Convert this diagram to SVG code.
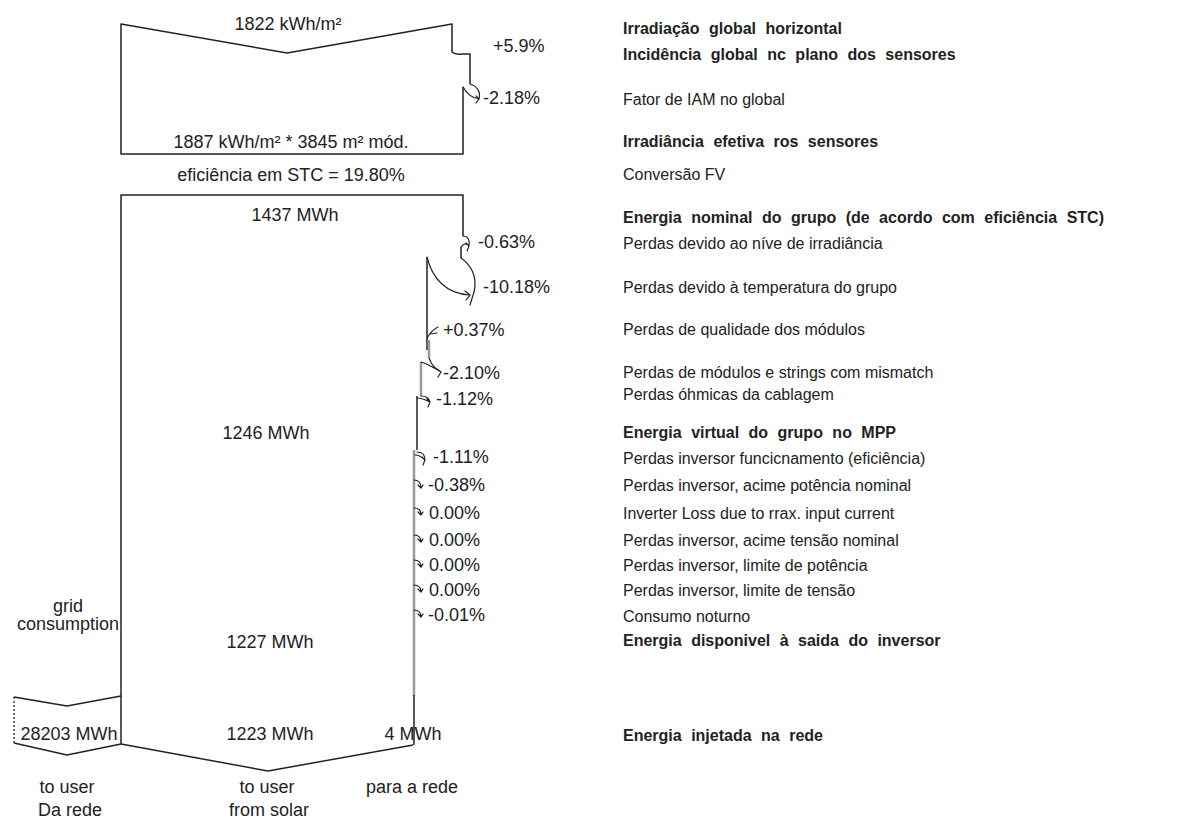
<svg xmlns="http://www.w3.org/2000/svg" width="1177" height="818" viewBox="0 0 1177 818">
<style>
.ln{fill:none;stroke:#222;stroke-width:1.5;stroke-linejoin:round}
.lg{fill:none;stroke:#9a9a9a;stroke-width:2.5}
.hk{fill:none;stroke:#222;stroke-width:1.2;stroke-linecap:round}
.t{font-family:"Liberation Sans",Arial,sans-serif;font-size:16px;fill:#222}
.s{font-size:18px}
.b{font-weight:bold;word-spacing:5px}
.m{text-anchor:middle}
</style>
<rect width="1177" height="818" fill="#fff"/>
<g id="irradiation-box">
<path class="ln" d="M463,87 L463,154 L121,154 L121,24 L287,53 L452,24 L452,52 Q455,55 462,54 L470,54 L470,84"/>
<text class="t s m" x="288" y="30">1822 kWh/m²</text>
<text class="t s m" x="291" y="148">1887 kWh/m² * 3845 m² mód.</text>
</g>
<text class="t s m" x="291" y="181">eficiência em STC = 19.80%</text>
<g id="energy-box">
<path class="ln" d="M413,745 L268,771 L121,744 L121,195 L463,195 L463,236 M461,247 L461,258 M427,257 L427,350"/>
<path class="ln" d="M417,396 L417,450"/>
<path class="lg" d="M429,340 L429,358 M421,362 L421,396 M414,450 L414,696"/>
<path class="ln" d="M414,695 L414,745"/>
<text class="t s m" x="295" y="221">1437 MWh</text>
<text class="t s m" x="266" y="439">1246 MWh</text>
<text class="t s m" x="270" y="648">1227 MWh</text>
<text class="t s m" x="270" y="740">1223 MWh</text>
<text class="t s m" x="413" y="740">4 MWh</text>
</g>
<g id="grid-box">
<path class="ln" d="M14,697 L67,706 L121,696 M14,743 L67,755 L121,744"/>
<path fill="none" stroke="#444" stroke-width="1.5" stroke-dasharray="2,2" d="M14,697 L14,743"/>
<text class="t s m" x="68" y="612">grid</text>
<text class="t s m" x="68" y="630">consumption</text>
<text class="t s m" x="69" y="740">28203 MWh</text>
</g>
<g id="connectors">
<path class="hk" d="M470,84 C477,86 481,92 479,99 M463,87 C467,94 472,98 479,99 M476,96 L479,99 L476,103"/>
<path class="hk" d="M463,236 C468,236 470,240 469,246 M461,247 C464,243 467,243 469,246 M466,243 L469,246 L467,251"/>
<path class="hk" d="M461,258 C470,264 478,276 474,292 L470,305 M427,257 C432,278 446,294 470,295 M465,291 L470,295 L466,300"/>
<path class="hk" d="M427,338 C430,333 434,329 438,327 M430,334 L437,333"/>
<path class="hk" d="M429,358 C432,366 436,370 441,372 M421,362 C428,364 434,368 441,372 M437,369 L441,372 L438,377"/>
<path class="hk" d="M421,396 C426,396 429,398 430,402 M417,398 C422,398 426,400 430,402 M427,399 L430,402 L428,407"/>
<path class="hk" d="M417,452 C422,452 425,455 425,460 M415,455 C419,455 422,457 425,460 M422,457 L425,460 L423,465"/>
<path class="hk" d="M414,480 C419,480 421,483 421,488 M418,485 L421,488 L423,485"/>
<path class="hk" d="M414,508 C419,508 421,511 421,515 M418,512 L421,515 L423,512"/>
<path class="hk" d="M414,535 C419,535 421,538 421,542 M418,539 L421,542 L423,539"/>
<path class="hk" d="M414,560 C419,560 421,563 421,567 M418,564 L421,567 L423,564"/>
<path class="hk" d="M414,585 C419,585 421,588 421,592 M418,589 L421,592 L423,589"/>
<path class="hk" d="M414,610 C419,610 421,613 421,617 M418,614 L421,617 L423,614"/>
</g>
<g id="loss-values">
<text class="t s" x="493" y="52">+5.9%</text>
<text class="t s" x="483" y="104">-2.18%</text>
<text class="t s" x="478" y="248">-0.63%</text>
<text class="t s" x="483" y="293">-10.18%</text>
<text class="t s" x="443" y="336">+0.37%</text>
<text class="t s" x="443" y="379">-2.10%</text>
<text class="t s" x="436" y="405">-1.12%</text>
<text class="t s" x="433" y="463">-1.11%</text>
<text class="t s" x="428" y="491">-0.38%</text>
<text class="t s" x="429" y="519">0.00%</text>
<text class="t s" x="429" y="546">0.00%</text>
<text class="t s" x="429" y="571">0.00%</text>
<text class="t s" x="429" y="596">0.00%</text>
<text class="t s" x="428" y="621">-0.01%</text>
</g>
<g id="bottom-labels">
<text class="t s m" x="67" y="793">to user</text>
<text class="t s m" x="70" y="816">Da rede</text>
<text class="t s m" x="267" y="793">to user</text>
<text class="t s m" x="269" y="816">from solar</text>
<text class="t s m" x="412" y="793">para a rede</text>
</g>
<g id="step-labels">
<text class="t b" x="623" y="34">Irradiação global horizontal</text>
<text class="t b" x="623" y="60">Incidência global nc plano dos sensores</text>
<text class="t" x="623" y="105">Fator de IAM no global</text>
<text class="t b" x="623" y="147">Irradiância efetiva ros sensores</text>
<text class="t" x="623" y="180">Conversão FV</text>
<text class="t b" x="623" y="223">Energia nominal do grupo (de acordo com eficiência STC)</text>
<text class="t" x="623" y="249">Perdas devido ao níve de irradiância</text>
<text class="t" x="623" y="293">Perdas devido à temperatura do grupo</text>
<text class="t" x="623" y="335">Perdas de qualidade dos módulos</text>
<text class="t" x="623" y="378">Perdas de módulos e strings com mismatch</text>
<text class="t" x="623" y="400">Perdas óhmicas da cablagem</text>
<text class="t b" x="623" y="438">Energia virtual do grupo no MPP</text>
<text class="t" x="623" y="464">Perdas inversor funcicnamento (eficiência)</text>
<text class="t" x="623" y="491">Perdas inversor, acime potência nominal</text>
<text class="t" x="623" y="519">Inverter Loss due to rrax. input current</text>
<text class="t" x="623" y="546">Perdas inversor, acime tensão nominal</text>
<text class="t" x="623" y="571">Perdas inversor, limite de potência</text>
<text class="t" x="623" y="596">Perdas inversor, limite de tensão</text>
<text class="t" x="623" y="622">Consumo noturno</text>
<text class="t b" x="623" y="646">Energia disponivel à saida do inversor</text>
<text class="t b" x="623" y="741">Energia injetada na rede</text>
</g>
</svg>
